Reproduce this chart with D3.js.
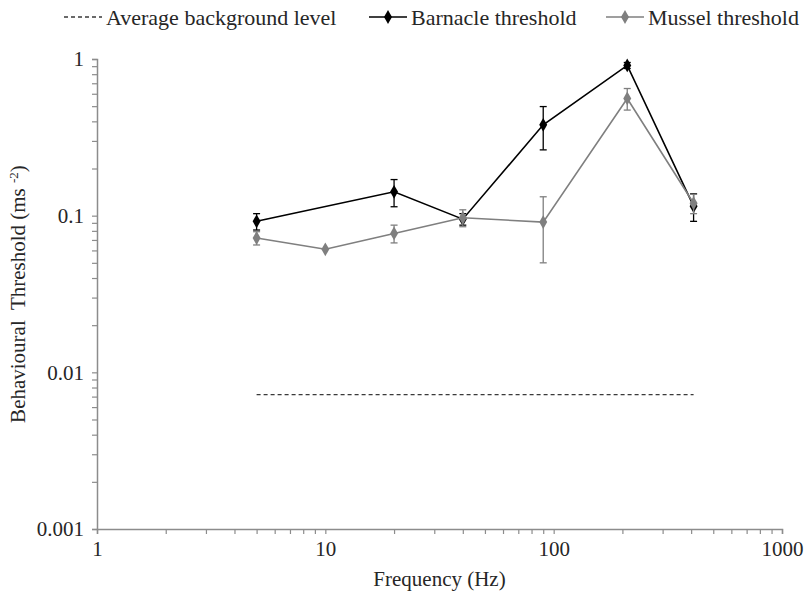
<!DOCTYPE html>
<html>
<head>
<meta charset="utf-8">
<script src="https://cdn.jsdelivr.net/npm/d3@7"></script>
</head>
<body style="margin:0; background:#fff">
<svg id="chart" width="804" height="594"></svg>
<script>
// Data
const barnacleFreq = [5, 20, 40, 90, 210, 410];
const barnacleValue = [0.092, 0.142, 0.095, 0.38, 0.91, 0.115];
const barnacleErr = [0.011, 0.028, 0.008, 0.117, 0.04, 0.023];

const musselFreq = [5, 10, 20, 40, 90, 210, 410];
const musselValue = [0.072, 0.061, 0.077, 0.097, 0.091, 0.56, 0.12];
const musselErr = [0.007, 0, 0.01, 0.012, 0.041, 0.088, 0.017];

const backgroundFreq = [5, 410];
const backgroundLevel = 0.0072;

const xMajor = [1, 10, 100, 1000];
const yMajor = [0.001, 0.01, 0.1, 1];

const svg = d3.select('#chart');
const serif = "Liberation Serif";
const textColor = '#262626';

// scales
const x = d3.scaleLog().domain([1, 1000]).range([97, 782]);
const y = d3.scaleLog().domain([0.001, 1]).range([529, 59]);

const axisColor = '#8c8c8c';

// x axis with minor ticks
const xAxis = svg.append('g')
  .attr('transform', `translate(0,${y(0.001)})`)
  .call(d3.axisBottom(x)
    .tickValues(x.ticks())
    .tickSize(5)
    .tickFormat(d => xMajor.includes(d) ? d3.format('d')(d) : ''));
xAxis.attr('font-family', serif).attr('font-size', 21);
xAxis.select('.domain').attr('stroke', axisColor).attr('stroke-width', 1.5);
xAxis.selectAll('.tick line').attr('stroke', axisColor).attr('stroke-width', 1.2);
xAxis.selectAll('.tick text')
  .attr('y', 12)
  .attr('fill', textColor);

// y axis with minor ticks
const yAxis = svg.append('g')
  .attr('transform', `translate(${x(1)},0)`)
  .call(d3.axisLeft(y)
    .tickValues(y.ticks())
    .tickSize(5)
    .tickFormat(d => yMajor.includes(d) ? String(+d.toPrecision(1)) : ''));
yAxis.attr('font-family', serif).attr('font-size', 21);
yAxis.select('.domain').attr('stroke', axisColor).attr('stroke-width', 1.5);
yAxis.selectAll('.tick line').attr('stroke', axisColor).attr('stroke-width', 1.2);
yAxis.selectAll('.tick text')
  .attr('x', -13)
  .attr('fill', textColor);

// axis titles
svg.append('text')
  .attr('x', (x(1) + x(1000)) / 2)
  .attr('y', 586)
  .attr('text-anchor', 'middle')
  .attr('font-family', serif)
  .attr('font-size', 21)
  .attr('fill', textColor)
  .text('Frequency (Hz)');

const yTitle = svg.append('text')
  .attr('transform', `translate(25,${(y(1) + y(0.001)) / 2}) rotate(-90)`)
  .attr('text-anchor', 'middle')
  .attr('font-family', serif)
  .attr('font-size', 21)
  .attr('fill', textColor)
  .attr('xml:space', 'preserve');
yTitle.append('tspan').text('Behavioural  Threshold (ms ');
yTitle.append('tspan').attr('dy', -7).attr('font-size', 13).text('-2');
yTitle.append('tspan').attr('dy', 7).text(')');

// background level
svg.append('line')
  .attr('x1', x(backgroundFreq[0]))
  .attr('x2', x(backgroundFreq[1]))
  .attr('y1', y(backgroundLevel))
  .attr('y2', y(backgroundLevel))
  .attr('stroke', '#3a3a3a')
  .attr('stroke-width', 1.3)
  .attr('stroke-dasharray', '4,3');

const diamond = d3.symbol().type(d3.symbolDiamond).size(55);

function drawSeries(freq, vals, errs, color) {
  const pts = freq.map((f, i) => ({ f: f, v: vals[i], e: errs[i] }));
  const g = svg.append('g');

  // error bars
  const eb = g.selectAll('g.err')
    .data(pts.filter(d => d.e > 0))
    .join('g')
    .attr('stroke', color)
    .attr('stroke-width', 1.3);
  eb.append('line')
    .attr('x1', d => x(d.f)).attr('x2', d => x(d.f))
    .attr('y1', d => y(d.v + d.e)).attr('y2', d => y(d.v - d.e));
  eb.append('line')
    .attr('x1', d => x(d.f) - 3.5).attr('x2', d => x(d.f) + 3.5)
    .attr('y1', d => y(d.v + d.e)).attr('y2', d => y(d.v + d.e));
  eb.append('line')
    .attr('x1', d => x(d.f) - 3.5).attr('x2', d => x(d.f) + 3.5)
    .attr('y1', d => y(d.v - d.e)).attr('y2', d => y(d.v - d.e));

  // line
  g.append('path')
    .datum(pts)
    .attr('fill', 'none')
    .attr('stroke', color)
    .attr('stroke-width', 1.6)
    .attr('d', d3.line().x(d => x(d.f)).y(d => y(d.v)));

  // markers
  g.selectAll('path.marker')
    .data(pts)
    .join('path')
    .attr('class', 'marker')
    .attr('d', diamond)
    .attr('transform', d => `translate(${x(d.f)},${y(d.v)})`)
    .attr('fill', color);
}

drawSeries(barnacleFreq, barnacleValue, barnacleErr, '#000000');
drawSeries(musselFreq, musselValue, musselErr, '#7f7f7f');

// legend
const legendItems = [
  { label: 'Average background level', color: '#3a3a3a', dash: '4,3', marker: false, x0: 64 },
  { label: 'Barnacle threshold', color: '#000000', dash: null, marker: true, x0: 369 },
  { label: 'Mussel threshold', color: '#7f7f7f', dash: null, marker: true, x0: 606 }
];
const legY = 17;
const leg = svg.append('g').selectAll('g')
  .data(legendItems)
  .join('g')
  .attr('transform', d => `translate(${d.x0},${legY})`);
leg.append('line')
  .attr('x1', 0).attr('x2', 38)
  .attr('stroke', d => d.color)
  .attr('stroke-width', d => d.marker ? 1.6 : 1.3)
  .attr('stroke-dasharray', d => d.dash);
leg.filter(d => d.marker).append('path')
  .attr('d', diamond)
  .attr('transform', 'translate(19,0)')
  .attr('fill', d => d.color);
leg.append('text')
  .attr('x', 42)
  .attr('dy', '0.35em')
  .attr('font-family', serif)
  .attr('font-size', 22)
  .attr('fill', textColor)
  .text(d => d.label);
</script>
</body>
</html>
